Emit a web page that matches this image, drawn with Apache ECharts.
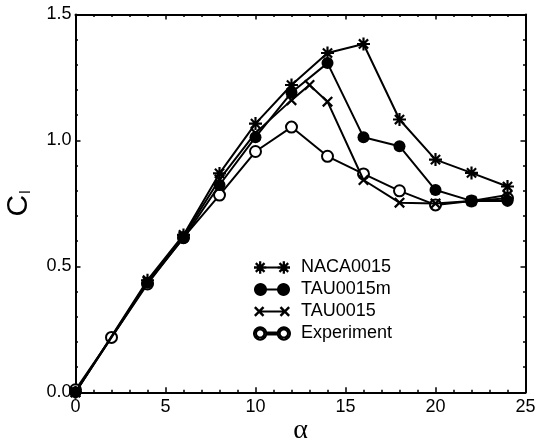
<!DOCTYPE html>
<html>
<head>
<meta charset="utf-8">
<script src="https://cdn.jsdelivr.net/npm/echarts@6/dist/echarts.min.js"></script>
<style>html,body{margin:0;padding:0;background:#fff}#c{width:539px;height:441px}</style>
</head>
<body>
<div id="c"></div>
<script>
// ---- data ----
var alphaCfd = [0, 4, 6, 8, 10, 12, 14, 16, 18, 20, 22, 24];
var naca0015 = [0.0, 0.445, 0.625, 0.869, 1.067, 1.220, 1.347, 1.383, 1.083, 0.924, 0.871, 0.817];
var tau0015m = [0.0, 0.435, 0.612, 0.823, 1.013, 1.190, 1.307, 1.013, 0.977, 0.803, 0.760, 0.760];
var alphaTau = [0, 4, 6, 8, 10, 12, 13, 14, 16, 18, 20, 22, 24];
var tau0015  = [0.0, 0.44, 0.62, 0.845, 1.03, 1.16, 1.22, 1.154, 0.843, 0.753, 0.750, 0.760, 0.783];
var alphaExp = [0, 2, 4, 6, 8, 10, 12, 14, 16, 18, 20, 22, 24];
var experiment = [0.01, 0.218, 0.43, 0.615, 0.783, 0.956, 1.053, 0.937, 0.867, 0.800, 0.744, 0.760, 0.770];
var seriesNames = ['NACA0015', 'TAU0015m', 'TAU0015', 'Experiment'];
var xTicks = [0, 5, 10, 15, 20, 25];
var yTicks = [0.0, 0.5, 1.0, 1.5];

function pairs(xs, ys) { return xs.map(function (x, i) { return [x, ys[i]]; }); }

// ---- symbol path helpers (styling only) ----
function f(n) { return (Math.round(n * 1000) / 1000).toString(); }
function rect(cx, cy, r, t, ang) {
  var ux = Math.cos(ang), uy = Math.sin(ang), nx = -uy, ny = ux;
  var p = [
    [cx + r * ux + t / 2 * nx, cy + r * uy + t / 2 * ny],
    [cx - r * ux + t / 2 * nx, cy - r * uy + t / 2 * ny],
    [cx - r * ux - t / 2 * nx, cy - r * uy - t / 2 * ny],
    [cx + r * ux - t / 2 * nx, cy + r * uy - t / 2 * ny]
  ];
  return 'M' + p.map(function (q) { return f(q[0]) + ',' + f(q[1]); }).join('L') + 'Z';
}
function asterisk(cx, cy, r, t) {
  return [0, 45, 90, 135].map(function (a) { return rect(cx, cy, r, t, a * Math.PI / 180); }).join('');
}
function cross(cx, cy, r, t) {
  return [45, 135].map(function (a) { return rect(cx, cy, r, t, a * Math.PI / 180); }).join('');
}
function circ(cx, cy, r, dir) {
  var n = 28, s = '';
  for (var i = 0; i <= n; i++) {
    var a = dir * i / n * 2 * Math.PI;
    s += (i === 0 ? 'M' : 'L') + f(cx + r * Math.cos(a)) + ',' + f(cy + r * Math.sin(a));
  }
  return s + 'Z';
}
function ring(cx, cy, r, t) { return circ(cx, cy, r, 1) + circ(cx, cy, r - t, -1); }
function lineSeg(x1, x2, cy, t) { return 'M' + f(x1) + ',' + f(cy - t / 2) + 'L' + f(x2) + ',' + f(cy - t / 2) + 'L' + f(x2) + ',' + f(cy + t / 2) + 'L' + f(x1) + ',' + f(cy + t / 2) + 'Z'; }

var symAst = 'path://' + asterisk(6, 6, 6, 2);
var symCross = 'path://' + cross(6, 6, 6, 2);

var L = 36, H = 13;
var iconAst = 'path://' + asterisk(6.5, 6.5, 6, 2.2) + lineSeg(6.5, L - 6.5, 6.5, 1.8) + asterisk(L - 6.5, 6.5, 6, 2.2);
var iconDot = 'path://' + circ(6.5, 6.5, 6.5, 1) + lineSeg(6.5, L - 6.5, 6.5, 1.8) + circ(L - 6.5, 6.5, 6.5, 1);
var iconCross = 'path://' + cross(6.5, 6.5, 5.5, 2.2) + lineSeg(6.5, L - 6.5, 6.5, 1.8) + cross(L - 6.5, 6.5, 5.5, 2.2);
var iconRing = 'path://' + ring(6.5, 6.5, 6, 2) + lineSeg(12.5, L - 12.5, 6.5, 1.8) + ring(L - 6.5, 6.5, 6, 2);

var font = 'Liberation Sans, Arial, sans-serif';
var axisLine = { show: true, onZero: false, lineStyle: { color: '#000', width: 2 } };
var tick = { show: true, inside: true, length: 5, lineStyle: { color: '#000', width: 1.5 } };
var minor = { show: true, splitNumber: 5, length: 2.5, lineStyle: { color: '#000', width: 1.5 } };

var chart = echarts.init(document.getElementById('c'), null, { renderer: 'canvas' });
chart.setOption({
  backgroundColor: '#fff',
  animation: false,
  grid: { left: 75.5, right: 13.5, top: 14.5, bottom: 48.7, containLabel: false, outerBoundsMode: 'none' },
  legend: {
    orient: 'vertical', left: 248, top: 252, itemWidth: L, itemHeight: H, itemGap: 1,
    textStyle: { color: '#000', fontSize: 18, fontFamily: font, lineHeight: 21, padding: [0, 0, 0, 6] },
    data: [
      { name: seriesNames[0], icon: iconAst },
      { name: seriesNames[1], icon: iconDot },
      { name: seriesNames[2], icon: iconCross },
      { name: seriesNames[3], icon: iconRing }
    ]
  },
  xAxis: [{
    type: 'value', min: 0, max: 25, interval: 5, position: 'bottom',
    axisLine: axisLine, axisTick: tick, minorTick: minor, splitLine: { show: false },
    axisLabel: { color: '#000', fontSize: 18, fontFamily: font, margin: 6,
      formatter: function (v) { return xTicks.indexOf(v) >= 0 ? String(v) : ''; } },
    name: 'α', nameLocation: 'middle', nameGap: 24, nameMoveOverlap: false,
    nameTextStyle: { color: '#000', fontSize: 28, fontFamily: 'Liberation Serif, Times New Roman, serif' }
  }, {
    type: 'value', min: 0, max: 25, interval: 5, position: 'top',
    axisLine: axisLine, axisTick: tick, minorTick: minor, splitLine: { show: false },
    axisLabel: { show: false }
  }],
  yAxis: [{
    type: 'value', min: 0, max: 1.5, interval: 0.5, position: 'left',
    axisLine: axisLine, axisTick: tick, minorTick: minor, splitLine: { show: false },
    axisLabel: { color: '#000', fontSize: 18, fontFamily: font, margin: 4,
      formatter: function (v) { return v.toFixed(1); } },
    name: '{c|C}{s|l}', nameLocation: 'middle', nameGap: 42, nameRotate: 90, nameMoveOverlap: false,
    nameTextStyle: {
      rich: {
        c: { color: '#000', fontSize: 30, fontFamily: font },
        s: { color: '#000', fontSize: 15, fontFamily: font, verticalAlign: 'bottom', padding: [14, 0, 0, 1] }
      }
    }
  }, {
    type: 'value', min: 0, max: 1.5, interval: 0.5, position: 'right',
    axisLine: axisLine, axisTick: tick, minorTick: minor, splitLine: { show: false },
    axisLabel: { show: false }
  }],
  series: [
    { name: seriesNames[3], type: 'line', data: pairs(alphaExp, experiment), symbol: 'circle', symbolSize: 11,
      itemStyle: { color: '#fff', borderColor: '#000', borderWidth: 2 }, lineStyle: { color: '#000', width: 2 }, z: 2 },
    { name: seriesNames[2], type: 'line', data: pairs(alphaTau, tau0015), symbol: symCross, symbolSize: 11,
      itemStyle: { color: '#000' }, lineStyle: { color: '#000', width: 2 }, z: 3 },
    { name: seriesNames[0], type: 'line', data: pairs(alphaCfd, naca0015), symbol: symAst, symbolSize: 13,
      itemStyle: { color: '#000' }, lineStyle: { color: '#000', width: 2 }, z: 4 },
    { name: seriesNames[1], type: 'line', data: pairs(alphaCfd, tau0015m), symbol: 'circle', symbolSize: 12,
      itemStyle: { color: '#000' }, lineStyle: { color: '#000', width: 2 }, z: 5 }
  ]
});
</script>
</body>
</html>
